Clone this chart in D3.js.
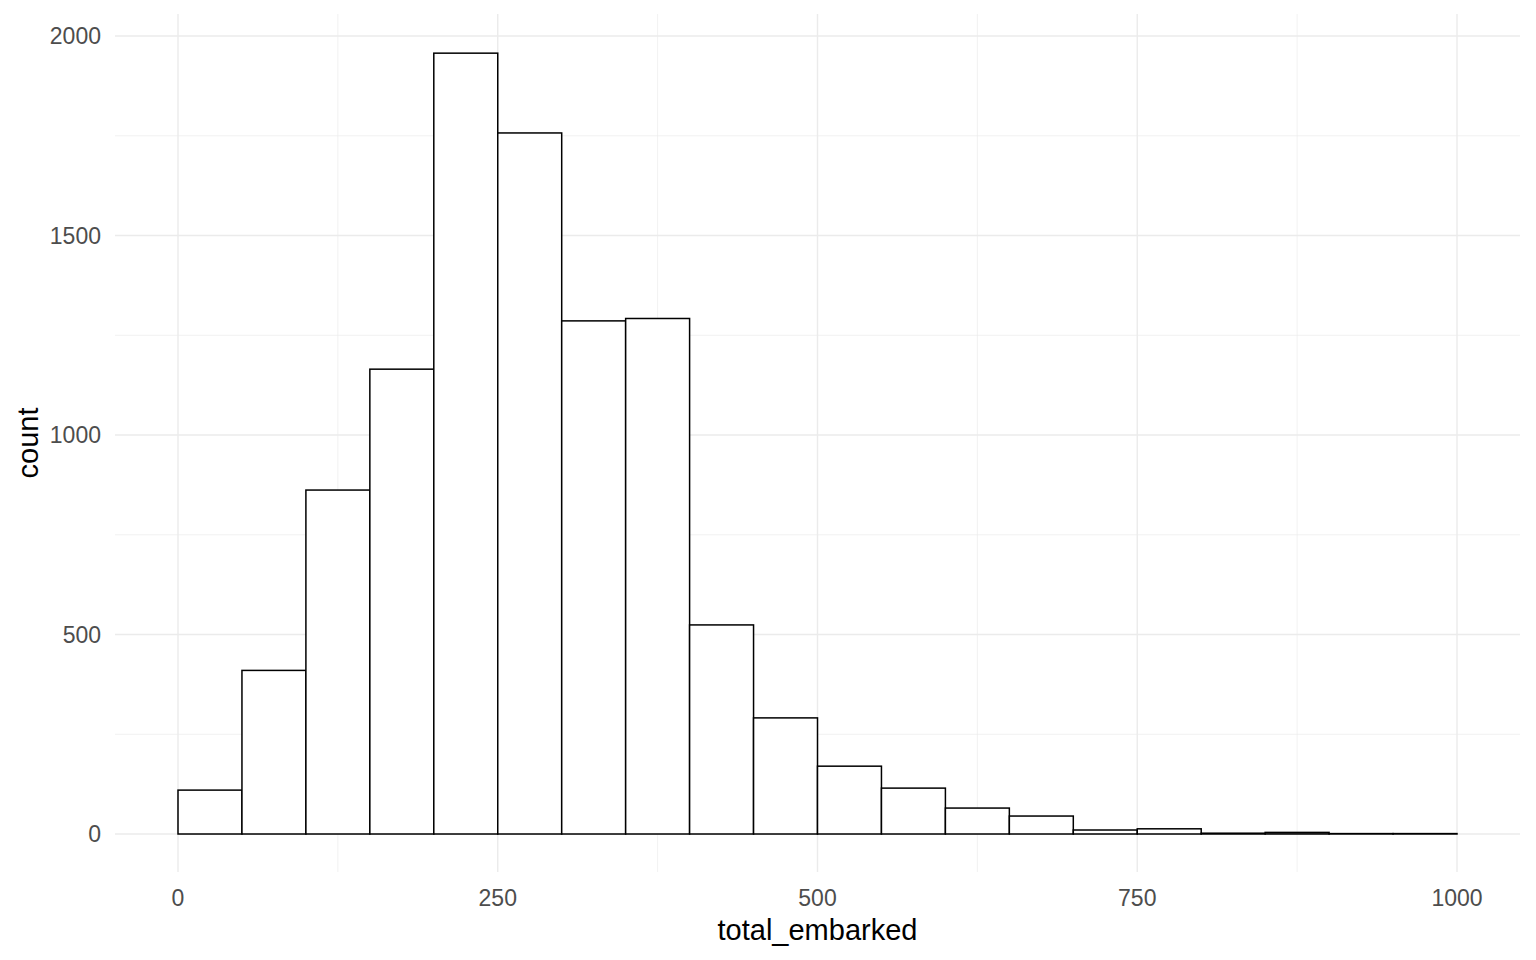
<!DOCTYPE html>
<html><head><meta charset="utf-8">
<script src="https://cdn.jsdelivr.net/npm/d3@7"></script>
<style>body{margin:0;background:#fff}</style></head>
<body><svg id="c" width="1536" height="960"></svg>
<script>
const binStarts = [0,50,100,150,200,250,300,350,400,450,500,550,600,650,700,750,800,850,900,950];
const binWidth = 50;
const counts = [110,410,862,1165,1957,1757,1286,1292,524,291,170,115,65,45,10,13,2,4,1,1];
const xTicks = [0,250,500,750,1000];
const yTicks = [0,500,1000,1500,2000];

const svg = d3.select("#c");
const x = d3.scaleLinear().domain([0,1000]).range([178,1457]);
const y = d3.scaleLinear().domain([0,2000]).range([834,36]);
const L=115,R=1520,T=14,B=872;
const g = svg.append("g");
[125,375,625,875].forEach(v=>g.append("line").attr("x1",x(v)).attr("x2",x(v)).attr("y1",T).attr("y2",B).attr("stroke","#ebebeb").attr("stroke-width",0.7));
[250,750,1250,1750].forEach(v=>g.append("line").attr("x1",L).attr("x2",R).attr("y1",y(v)).attr("y2",y(v)).attr("stroke","#ebebeb").attr("stroke-width",0.7));
xTicks.forEach(v=>g.append("line").attr("x1",x(v)).attr("x2",x(v)).attr("y1",T).attr("y2",B).attr("stroke","#ebebeb").attr("stroke-width",1.4));
yTicks.forEach(v=>g.append("line").attr("x1",L).attr("x2",R).attr("y1",y(v)).attr("y2",y(v)).attr("stroke","#ebebeb").attr("stroke-width",1.4));

g.selectAll("rect.b").data(binStarts).enter().append("rect")
 .attr("x",d=>x(d)).attr("width",d=>x(d+binWidth)-x(d))
 .attr("y",(d,i)=>y(counts[i])).attr("height",(d,i)=>y(0)-y(counts[i]))
 .attr("fill","#fff").attr("stroke","#000").attr("stroke-width",1.5);

const f="Liberation Sans, Arial, sans-serif";
xTicks.forEach(v=>svg.append("text").attr("x",x(v)).attr("y",906).attr("text-anchor","middle").attr("font-family",f).attr("font-size",23).attr("fill","#4d4d4d").text(v));
yTicks.forEach(v=>svg.append("text").attr("x",101).attr("y",y(v)+8).attr("text-anchor","end").attr("font-family",f).attr("font-size",23).attr("fill","#4d4d4d").text(v));
svg.append("text").attr("x",x(500)).attr("y",940).attr("text-anchor","middle").attr("font-family",f).attr("font-size",29).text("total_embarked");
svg.append("text").attr("transform","translate(38,"+((T+B)/2)+") rotate(-90)").attr("text-anchor","middle").attr("font-family",f).attr("font-size",29).text("count");
</script></body></html>
